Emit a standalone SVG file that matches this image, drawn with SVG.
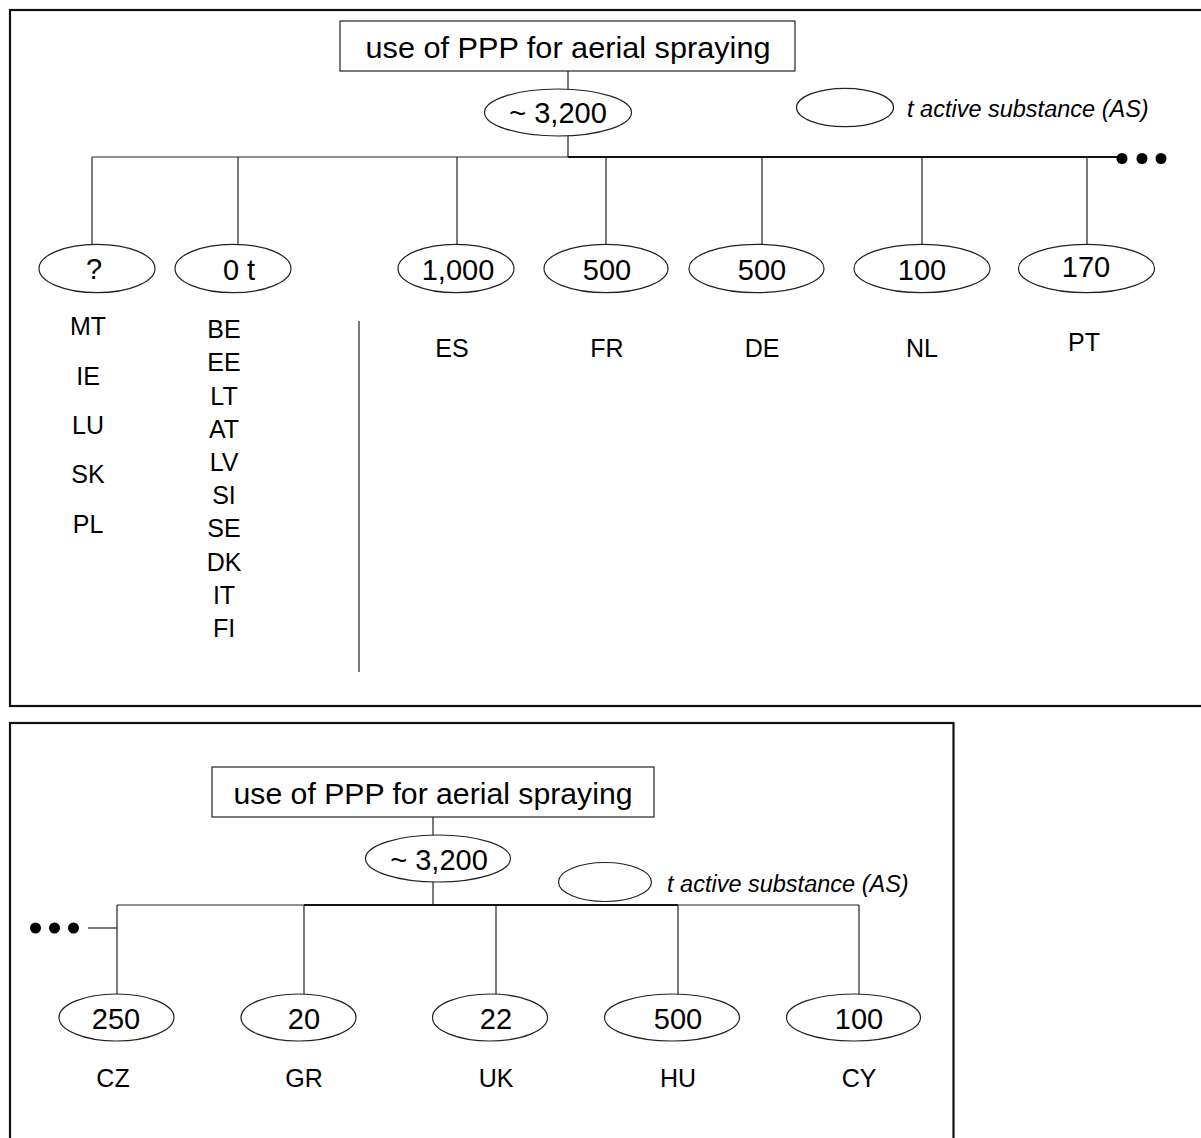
<svg xmlns="http://www.w3.org/2000/svg" width="1201" height="1138" viewBox="0 0 1201 1138">
  <style>
    text { font-family: "Liberation Sans", Arial, sans-serif; fill: #000; }
    .title { font-size: 29px; text-anchor: middle; }
    .num { font-size: 29px; text-anchor: middle; }
    .cc { font-size: 25px; text-anchor: middle; }
    .legend { font-size: 23.5px; font-style: italic; }
    .frame { fill: none; stroke: #111; stroke-width: 2.2; }
    .box { fill: #fff; stroke: #222; stroke-width: 1.2; }
    .oval { fill: #fff; stroke: #222; stroke-width: 1.2; }
    .wire { fill: none; stroke: #222; stroke-width: 1.2; }
    .bus { fill: none; stroke: #111; stroke-width: 2; }
    .dot { fill: #000; }
  </style>

  <!-- upper panel -->
  <rect class="frame" x="10" y="10" width="1200" height="696"/>

  <g id="connectors-top">
    <line class="wire" x1="568" y1="71" x2="568" y2="89"/>
    <line class="wire" x1="568" y1="136" x2="568" y2="157"/>
    <line class="wire" x1="92" y1="157" x2="568" y2="157"/>
    <line class="bus" x1="568" y1="157" x2="1118" y2="157"/>
    <line class="wire" x1="92" y1="157" x2="92" y2="244"/>
    <line class="wire" x1="238" y1="157" x2="238" y2="244"/>
    <line class="wire" x1="457" y1="157" x2="457" y2="244"/>
    <line class="wire" x1="606" y1="157" x2="606" y2="244"/>
    <line class="wire" x1="762" y1="157" x2="762" y2="244"/>
    <line class="wire" x1="922" y1="157" x2="922" y2="244"/>
    <line class="wire" x1="1087" y1="157" x2="1087" y2="244"/>
    <circle class="dot" cx="1122" cy="158.5" r="5.5"/>
    <circle class="dot" cx="1142" cy="158.5" r="5.5"/>
    <circle class="dot" cx="1161" cy="158.5" r="5.5"/>
    <line class="wire" x1="359" y1="321" x2="359" y2="672"/>
  </g>

  <g id="title-top">
    <rect class="box" x="340" y="21" width="455" height="50"/>
    <text class="title" x="568" y="58" textLength="405" lengthAdjust="spacingAndGlyphs">use of PPP for aerial spraying</text>
  </g>
  <g id="total-top">
    <ellipse class="oval" cx="558" cy="112.5" rx="73.5" ry="23.5"/>
    <text class="num" x="558" y="123">~ 3,200</text>
  </g>
  <g id="legend-top">
    <ellipse class="oval" cx="845" cy="107.5" rx="48.5" ry="19.2"/>
    <text class="legend" x="907" y="117">t active substance (AS)</text>
  </g>

  <g id="node-unknown">
    <ellipse class="oval" cx="97" cy="268.5" rx="58" ry="24.2"/>
    <text class="num" x="94" y="279">?</text>
    <text class="cc" x="88" y="335">MT</text>
    <text class="cc" x="88" y="385">IE</text>
    <text class="cc" x="88" y="434">LU</text>
    <text class="cc" x="88" y="483">SK</text>
    <text class="cc" x="88" y="533">PL</text>
  </g>
  <g id="node-zero">
    <ellipse class="oval" cx="233" cy="268.5" rx="58" ry="24.2"/>
    <text class="num" x="239" y="280">0 t</text>
    <text class="cc" x="224" y="338">BE</text>
    <text class="cc" x="224" y="371">EE</text>
    <text class="cc" x="224" y="404.5">LT</text>
    <text class="cc" x="224" y="438">AT</text>
    <text class="cc" x="224" y="471">LV</text>
    <text class="cc" x="224" y="504">SI</text>
    <text class="cc" x="224" y="537">SE</text>
    <text class="cc" x="224" y="570.5">DK</text>
    <text class="cc" x="224" y="603.5">IT</text>
    <text class="cc" x="224" y="637">FI</text>
  </g>
  <g id="node-es">
    <ellipse class="oval" cx="456" cy="268.5" rx="58" ry="24.2"/>
    <text class="num" x="458" y="280">1,000</text>
    <text class="cc" x="452" y="357">ES</text>
  </g>
  <g id="node-fr">
    <ellipse class="oval" cx="606" cy="268.5" rx="62" ry="24.2"/>
    <text class="num" x="607" y="280">500</text>
    <text class="cc" x="607" y="357">FR</text>
  </g>
  <g id="node-de">
    <ellipse class="oval" cx="756.5" cy="268.5" rx="67.5" ry="24.2"/>
    <text class="num" x="762" y="280">500</text>
    <text class="cc" x="762" y="357">DE</text>
  </g>
  <g id="node-nl">
    <ellipse class="oval" cx="922" cy="268.5" rx="68" ry="24.2"/>
    <text class="num" x="922" y="280">100</text>
    <text class="cc" x="922" y="357">NL</text>
  </g>
  <g id="node-pt">
    <ellipse class="oval" cx="1086.5" cy="268.5" rx="68" ry="24.2"/>
    <text class="num" x="1086" y="277">170</text>
    <text class="cc" x="1084" y="351">PT</text>
  </g>

  <!-- lower panel -->
  <rect class="frame" x="10" y="723" width="943.5" height="430"/>

  <g id="connectors-bottom">
    <line class="wire" x1="433" y1="817" x2="433" y2="835"/>
    <line class="wire" x1="433" y1="882" x2="433" y2="905"/>
    <line class="wire" x1="117" y1="905" x2="304" y2="905"/>
    <line class="bus" x1="304" y1="905" x2="678" y2="905"/>
    <line class="wire" x1="678" y1="905" x2="859" y2="905"/>
    <line class="wire" x1="117" y1="905" x2="117" y2="994"/>
    <line class="wire" x1="304" y1="905" x2="304" y2="994"/>
    <line class="wire" x1="496" y1="905" x2="496" y2="994"/>
    <line class="wire" x1="678" y1="905" x2="678" y2="994"/>
    <line class="wire" x1="859" y1="905" x2="859" y2="994"/>
    <line class="wire" x1="88" y1="928" x2="117" y2="928"/>
    <circle class="dot" cx="35.5" cy="928" r="5.5"/>
    <circle class="dot" cx="54.5" cy="928" r="5.5"/>
    <circle class="dot" cx="73.5" cy="928" r="5.5"/>
  </g>

  <g id="title-bottom">
    <rect class="box" x="212" y="767" width="442" height="50"/>
    <text class="title" x="433" y="803.5" textLength="399" lengthAdjust="spacingAndGlyphs">use of PPP for aerial spraying</text>
  </g>
  <g id="total-bottom">
    <ellipse class="oval" cx="438" cy="858.5" rx="72.5" ry="23.5"/>
    <text class="num" x="439" y="870">~ 3,200</text>
  </g>
  <g id="legend-bottom">
    <ellipse class="oval" cx="605" cy="882" rx="46.5" ry="19.5"/>
    <text class="legend" x="667" y="891.5">t active substance (AS)</text>
  </g>

  <g id="node-cz">
    <ellipse class="oval" cx="116.5" cy="1017.5" rx="57.5" ry="23.5"/>
    <text class="num" x="116" y="1028.5">250</text>
    <text class="cc" x="113" y="1087">CZ</text>
  </g>
  <g id="node-gr">
    <ellipse class="oval" cx="298.5" cy="1017.5" rx="57.5" ry="23.5"/>
    <text class="num" x="304" y="1028.5">20</text>
    <text class="cc" x="304" y="1087">GR</text>
  </g>
  <g id="node-uk">
    <ellipse class="oval" cx="490" cy="1017.5" rx="57.5" ry="23.5"/>
    <text class="num" x="496" y="1028.5">22</text>
    <text class="cc" x="496" y="1087">UK</text>
  </g>
  <g id="node-hu">
    <ellipse class="oval" cx="672" cy="1017.5" rx="67.5" ry="23.5"/>
    <text class="num" x="678" y="1028.5">500</text>
    <text class="cc" x="678" y="1087">HU</text>
  </g>
  <g id="node-cy">
    <ellipse class="oval" cx="853.5" cy="1017.5" rx="67" ry="23.5"/>
    <text class="num" x="859" y="1028.5">100</text>
    <text class="cc" x="859" y="1087">CY</text>
  </g>
</svg>
